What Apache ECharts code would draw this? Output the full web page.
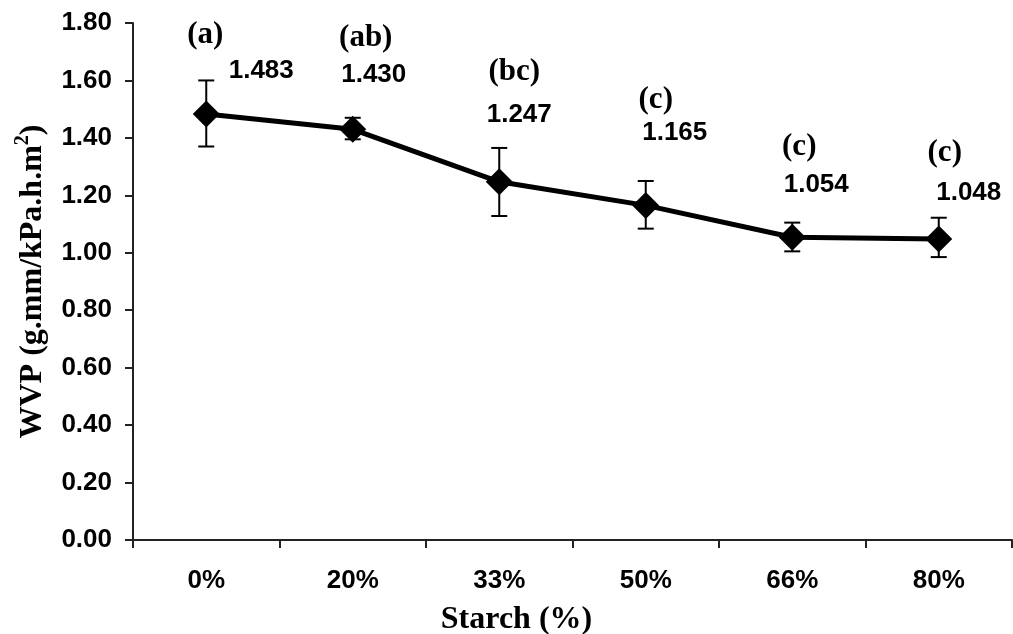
<!DOCTYPE html>
<html>
<head>
<meta charset="utf-8">
<script src="https://cdn.jsdelivr.net/npm/echarts@6/dist/echarts.min.js"></script>
<style>
html,body{margin:0;padding:0;background:#fff;}
#chart{width:1013px;height:634px;}
</style>
</head>
<body>
<div id="chart"></div>
<script>
// ---- data ----
var categories = ['0%', '20%', '33%', '50%', '66%', '80%'];
var wvp = [1.483, 1.430, 1.247, 1.165, 1.054, 1.048];
var errUpper = [1.600, 1.470, 1.365, 1.250, 1.105, 1.122];
var errLower = [1.370, 1.395, 1.128, 1.084, 1.005, 0.985];
var groupLetters = ['(a)', '(ab)', '(bc)', '(c)', '(c)', '(c)'];
var yTicks = { min: 0, max: 1.8, interval: 0.2 };

// ---- label placement (style, not data) ----
var valueOffsets = [[55, -43], [21, -54], [20, -67], [29, -73], [24, -52], [30, -46]];
var letterOffsets = [[-1, -79], [13, -91], [15, -110], [10, -105], [7, -90], [6, -86]];

var SANS = "'Liberation Sans', Arial, sans-serif";
var SERIF = "'Liberation Serif', 'Times New Roman', serif";

var chart = echarts.init(document.getElementById('chart'), null, { renderer: 'canvas' });

var lineData = wvp.map(function (v, i) {
  return {
    value: v,
    label: {
      show: true,
      position: 'inside',
      offset: valueOffsets[i],
      formatter: v.toFixed(3)
    }
  };
});
var letterData = wvp.map(function (v, i) {
  return {
    value: v,
    label: {
      show: true,
      position: 'inside',
      offset: letterOffsets[i],
      formatter: groupLetters[i]
    }
  };
});
var errData = categories.map(function (c, i) { return [i, errLower[i], errUpper[i]]; });

var option = {
  backgroundColor: '#fff',
  animation: false,
  grid: { left: 133, right: 1, top: 23, bottom: 94, containLabel: false, outerBoundsMode: 'none' },
  xAxis: {
    type: 'category',
    data: categories,
    boundaryGap: true,
    name: 'Starch (%)',
    nameLocation: 'middle',
    nameGap: 64,
    nameTextStyle: { fontFamily: SERIF, fontWeight: 'bold', fontSize: 32, color: '#000', padding: [0, 112, 0, 0] },
    axisLine: { lineStyle: { color: '#222', width: 2 } },
    axisTick: { show: true, alignWithLabel: false, length: 8, lineStyle: { color: '#222', width: 2 } },
    axisLabel: { fontFamily: SANS, fontWeight: 'bold', fontSize: 26, color: '#000', margin: 28 },
    splitLine: { show: false }
  },
  yAxis: {
    type: 'value',
    min: yTicks.min,
    max: yTicks.max,
    interval: yTicks.interval,
    name: '{a|WVP (g.mm/kPa.h.m}{s|2}{a|)}',
    nameLocation: 'middle',
    nameGap: 84,
    nameRotate: 90,
    nameTextStyle: {
      rich: {
        a: { fontFamily: SERIF, fontWeight: 'bold', fontSize: 32, color: '#000', lineHeight: 36, verticalAlign: 'bottom' },
        s: { fontFamily: SERIF, fontWeight: 'bold', fontSize: 20, color: '#000', lineHeight: 36, verticalAlign: 'top' }
      }
    },
    axisLine: { show: true, lineStyle: { color: '#222', width: 2 } },
    axisTick: { show: true, length: 8, lineStyle: { color: '#222', width: 2 } },
    axisLabel: {
      fontFamily: SANS, fontWeight: 'bold', fontSize: 26, color: '#000', margin: 21,
      formatter: function (v) { return v.toFixed(2); }
    },
    splitLine: { show: false }
  },
  series: [
    {
      type: 'custom',
      name: 'err',
      z: 1,
      data: errData,
      renderItem: function (params, api) {
        var x = api.value(0);
        var lo = api.coord([x, api.value(1)]);
        var hi = api.coord([x, api.value(2)]);
        var hw = 8;
        var st = { stroke: '#000', lineWidth: 2 };
        return {
          type: 'group',
          children: [
            { type: 'line', shape: { x1: lo[0], y1: lo[1], x2: hi[0], y2: hi[1] }, style: st },
            { type: 'line', shape: { x1: hi[0] - hw, y1: hi[1], x2: hi[0] + hw, y2: hi[1] }, style: st },
            { type: 'line', shape: { x1: lo[0] - hw, y1: lo[1], x2: lo[0] + hw, y2: lo[1] }, style: st }
          ]
        };
      }
    },
    {
      type: 'line',
      name: 'WVP',
      z: 3,
      data: lineData,
      symbol: 'diamond',
      symbolSize: [27, 27],
      lineStyle: { color: '#000', width: 5 },
      itemStyle: { color: '#000' },
      label: { fontFamily: SANS, fontWeight: 'bold', fontSize: 26, color: '#000' },
      emphasis: { disabled: true }
    },
    {
      type: 'line',
      name: 'letters',
      z: 4,
      data: letterData,
      symbol: 'circle',
      symbolSize: 1,
      showSymbol: true,
      itemStyle: { opacity: 0 },
      lineStyle: { opacity: 0 },
      label: { fontFamily: SERIF, fontWeight: 'bold', fontSize: 31, color: '#000', opacity: 1 },
      emphasis: { disabled: true },
      silent: true
    }
  ]
};
chart.setOption(option);
</script>
</body>
</html>
